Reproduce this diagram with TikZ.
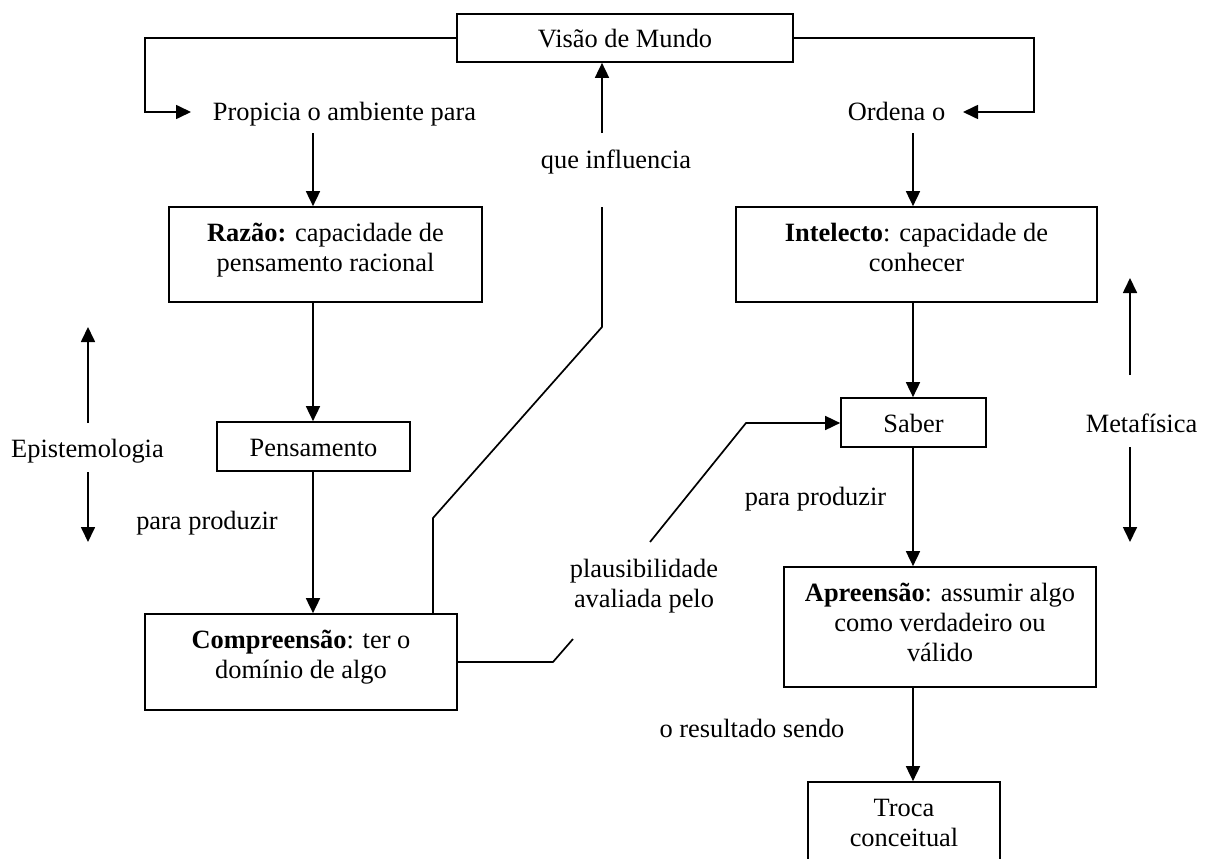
\documentclass[tikz,border=0pt]{standalone}
\usepackage{fontspec}
\setmainfont{Liberation Serif}
\usetikzlibrary{arrows.meta}
\newcommand{\mybox}[3]{\parbox[c][#2][t]{#1}{\centering\rule{0pt}{34pt}#3}}
\begin{document}
\begin{tikzpicture}[x=1pt,y=-1pt,
  font=\fontsize{26.4}{30}\selectfont,
  box/.style={draw, line width=1.7pt, inner sep=0pt},
  lbl/.style={inner sep=0pt, anchor=base},
  link/.style={line width=1.7pt},
  arr/.style={link, -{Triangle[length=15pt,width=14pt]}}]
\clip (0,0) rectangle (1207,859);
\fill[white] (0,0) rectangle (1207,859);

% boxes
\node[box] (visao) at (625,38) {\mybox{336pt}{48pt}{Visão de Mundo}};
\node[box] (razao) at (325.5,254.5) {\mybox{313pt}{95pt}{\textbf{Razão:} capacidade de\\pensamento racional}};
\node[box] (pens) at (313.5,446.5) {\mybox{193pt}{49pt}{Pensamento}};
\node[box] (comp) at (301,662) {\mybox{312pt}{96pt}{\textbf{Compreensão}: ter o\\domínio de algo}};
\node[box] (intel) at (916.5,254.5) {\mybox{361pt}{95pt}{\textbf{Intelecto}: capacidade de\\conhecer}};
\node[box] (saber) at (913.5,422.5) {\mybox{145pt}{49pt}{Saber}};
\node[box] (apre) at (940,627) {\mybox{312pt}{120pt}{\textbf{Apreensão}: assumir algo\\como verdadeiro ou\\válido}};
\node[box] (troca) at (904,831) {\mybox{192pt}{98pt}{Troca\\conceitual}};

% labels
\node[lbl] (prop) at (344.5,120) {Propicia o ambiente para};
\node[lbl] (ordena) at (896.5,120) {Ordena o};
\node[lbl] (que) at (616,168) {que influencia};
\node[lbl] (epi) at (87.5,457) {Epistemologia};
\node[lbl] (pp1) at (207,529) {para produzir};
\node[lbl] (pp2) at (815.5,505) {para produzir};
\node[lbl] (meta) at (1141.5,432) {Metafísica};
\node[lbl] (res) at (752,737) {o resultado sendo};
\node[inner sep=0pt, align=center] (plaus) at (644,586) {plausibilidade\\avaliada pelo};

% top connectors
\coordinate (pL) at (145,112);
\coordinate (pTip) at (191,112);
\draw[arr] (visao.west) -| (pL) -- (pTip);
\coordinate (oR) at (1034,112);
\coordinate (oTip) at (963,112);
\draw[arr] (visao.east) -| (oR) -- (oTip);

% left column
\coordinate (pDown) at (313,133);
\draw[arr] (pDown) -- (pDown |- razao.north);
\draw[arr] (razao.south -| pDown) -- (pDown |- pens.north);
\draw[arr] (pens.south -| pDown) -- (pDown |- comp.north);

% right column
\coordinate (oDown) at (913,133);
\draw[arr] (oDown) -- (oDown |- intel.north);
\draw[arr] (intel.south -| oDown) -- (oDown |- saber.north);
\draw[arr] (saber.south -| oDown) -- (oDown |- apre.north);
\draw[arr] (apre.south -| oDown) -- (oDown |- troca.north);

% que influencia
\coordinate (qUp) at (602,133);
\draw[arr] (qUp) -- (qUp |- visao.south);
\coordinate (q1) at (602,207);
\coordinate (q2) at (602,327);
\coordinate (q3) at (433,518);
\draw[link] (q1) -- (q2) -- (q3) -- (q3 |- comp.north);

% plausibilidade
\coordinate (s1) at (553,662);
\coordinate (s2) at (573,639);
\draw[link] (comp.east) -- (s1) -- (s2);
\coordinate (s3) at (650,542);
\coordinate (s4) at (746,423);
\draw[arr] (s3) -- (s4) -- (s4 -| saber.west);

% Epistemologia arrows
\coordinate (e1) at (88,423);
\coordinate (e2) at (88,327);
\coordinate (e3) at (88,472);
\coordinate (e4) at (88,542);
\draw[arr] (e1) -- (e2);
\draw[arr] (e3) -- (e4);

% Metafisica arrows
\coordinate (m1) at (1130,375);
\coordinate (m2) at (1130,278);
\coordinate (m3) at (1130,447);
\coordinate (m4) at (1130,542);
\draw[arr] (m1) -- (m2);
\draw[arr] (m3) -- (m4);
\end{tikzpicture}
\end{document}
